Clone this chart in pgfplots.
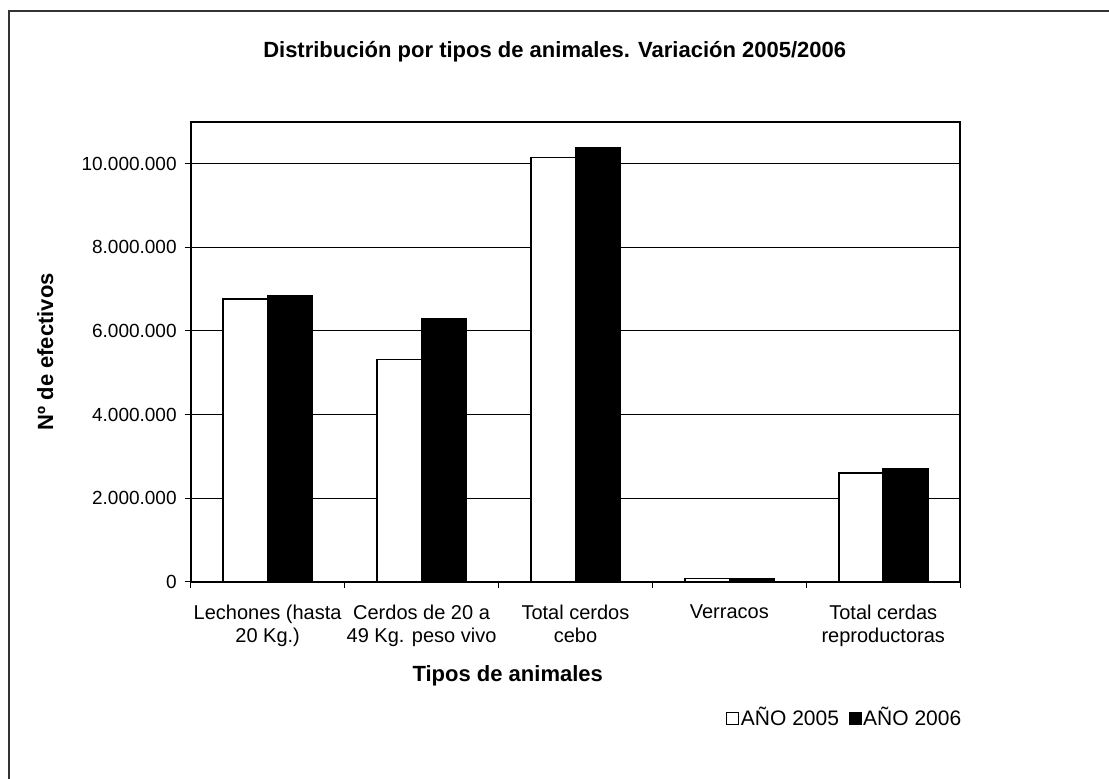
\documentclass[border=0pt]{standalone}
\usepackage{fontspec}
\setmainfont{Liberation Sans}
\usepackage{pgfplots}
\pgfplotsset{compat=1.18}
\begin{document}
\begin{tikzpicture}
\useasboundingbox (0,0) rectangle (554.5pt,389.5pt);
\draw[line width=0.9pt, black!80] (4.5pt,0) -- (4.5pt,384pt) -- (554.5pt,384pt);
\begin{axis}[
  at={(95.35pt,98.5pt)}, anchor=south west,
  scale only axis, width=384.75pt, height=230.15pt,
  ybar=0pt, bar width=22.25pt,
  xmin=-0.5, xmax=4.5, ymin=0, ymax=11000000,
  xtick={0,1,2,3,4},
  xticklabels={{Lechones (hasta\\20 Kg.)},{Cerdos de 20 a\\49 Kg. peso vivo},{Total cerdos\\cebo},{Verracos},{Total cerdas\\reproductoras}},
  xticklabel style={align=center, font=\fontsize{10}{11.5}\selectfont, anchor=north, yshift=-5pt},
  major x tick style={draw=none},
  minor xtick={-0.5,0.5,1.5,2.5,3.5,4.5},
  minor tick length=3pt,
  tick align=outside,
  major tick length=3pt,
  ytick={0,2000000,4000000,6000000,8000000,10000000},
  scaled y ticks=false,
  yticklabel style={font=\fontsize{9.5}{11}\selectfont, xshift=-0.5pt, /pgf/number format/.cd, fixed, precision=0, 1000 sep={.}, assume math mode=true},
  ymajorgrids, grid style={black, line width=0.5pt},
  axis line style={line width=0.9pt},
  tick style={black, line width=0.5pt},
  xtick pos=bottom, ytick pos=left,
  title={Distribución por tipos de animales. Variación 2005/2006},
  title style={font=\fontsize{11}{13}\selectfont\bfseries, at={(axis description cs:0.473,1.1256)}, anchor=center},
  xlabel={Tipos de animales},
  xlabel style={font=\fontsize{11}{13}\selectfont\bfseries, at={(axis description cs:0.412,-0.2042)}, anchor=center},
  ylabel={Nº de efectivos},
  ylabel style={font=\fontsize{11}{13}\selectfont\bfseries, at={(axis description cs:-0.189,0.5)}, anchor=center, rotate=0},
  legend columns=2,
  legend style={at={(axis description cs:1.004,-0.2955)}, anchor=east, draw=none, fill=none, inner sep=0pt, font=\fontsize{10.5}{12}\selectfont, nodes={inner sep=0.8pt}, /tikz/every odd column/.append style={column sep=0pt}, /tikz/every even column/.append style={column sep=4pt}},
  legend image code/.code={\draw[#1, line width=0.5pt] (0pt,-3pt) rectangle (6pt,3pt);},
]
\addplot[fill=white, draw=black, line width=0.8pt] coordinates {(0,6760000) (1,5320000) (2,10140000) (3,80000) (4,2600000)};
\addplot[fill=black, draw=black, line width=0.8pt] coordinates {(0,6850000) (1,6280000) (2,10380000) (3,65000) (4,2700000)};
\legend{AÑO 2005,AÑO 2006}
\end{axis}
\end{tikzpicture}
\end{document}
